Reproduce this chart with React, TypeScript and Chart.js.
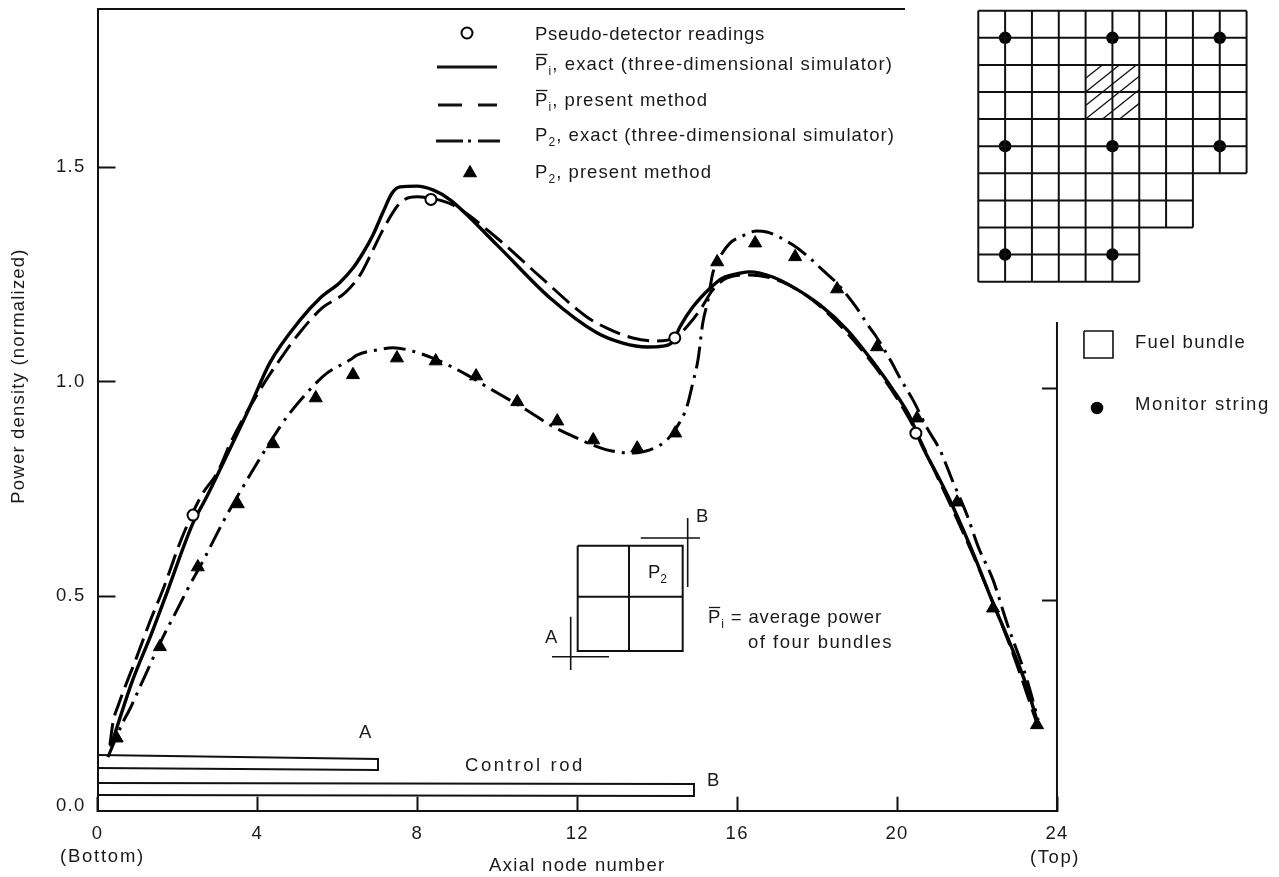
import React, { useEffect, useRef } from "react";
import { Chart, registerables } from "chart.js";

Chart.register(...registerables);

// ---- Curves, [axial node, power density] ----
const meanExact: number[][] = [
  [0.33,0.149],[0.855,0.298],[1.356,0.414],[1.688,0.496],[2.39,0.671],[2.69,0.724],[3.14,0.81],[3.81,0.941],[4.31,1.044],
  [5.07,1.144],[5.57,1.195],[6.07,1.232],[6.39,1.265],[6.64,1.3],[6.89,1.342],[7.14,1.395],[7.37,1.44],[7.57,1.454],
  [7.99,1.456],[8.39,1.447],[8.82,1.424],[9.99,1.319],[11.32,1.195],[12.49,1.114],
  [13.14,1.09],[13.74,1.081],[14.14,1.083],[14.39,1.093],[14.57,1.128],[14.89,1.174],[15.32,1.218],[15.64,1.242],[16.07,1.253],
  [16.32,1.256],[16.89,1.244],[17.39,1.221],[18.07,1.179],[18.75,1.121],[19.4,1.046],[19.9,0.981],[20.32,0.918],[20.62,0.852],
  [21.07,0.771],[21.4,0.708],[21.9,0.601],[22.4,0.484],[22.82,0.391],[23.25,0.288],[23.53,0.2],
];
const meanPresent: number[][] = [
  [0.31,0.153],[0.39,0.207],[0.52,0.246],[0.98,0.358],[1.3,0.438],[1.66,0.521],[2.06,0.624],[2.39,0.696],[2.64,0.741],[2.99,0.787],
  [3.36,0.864],[4.11,0.988],[4.61,1.058],[5.07,1.116],[5.62,1.172],[6.19,1.207],[6.57,1.249],[6.89,1.307],[7.14,1.354],[7.57,1.417],
  [7.99,1.431],[8.32,1.428],[8.89,1.412],[9.99,1.335],[11.07,1.245],[12.24,1.151],[12.74,1.125],
  [13.39,1.102],[13.99,1.095],[14.45,1.102],[14.74,1.128],[15.07,1.167],[15.39,1.214],[15.75,1.242],[16.32,1.249],[17.14,1.232],
  [18.07,1.176],[19.4,1.041],[20.32,0.911],[21.07,0.766],[21.9,0.596],[22.82,0.386],[23.53,0.195],
];
const p2Exact: number[][] = [
  [0.26,0.125],[0.64,0.207],[0.81,0.237],[1.06,0.288],[1.64,0.405],[1.99,0.468],[2.24,0.514],[2.69,0.591],[3.14,0.673],[3.49,0.731],
  [3.99,0.81],[4.56,0.894],[4.81,0.927],[5.49,0.999],[5.74,1.02],[6.32,1.051],[6.49,1.062],[6.99,1.074],[7.39,1.079],[7.77,1.074],
  [8.39,1.055],[9.24,1.016],[9.74,0.988],[10.39,0.953],[10.82,0.929],[11.32,0.899],[11.82,0.876],[12.32,0.855],[12.74,0.841],[13.39,0.834],
  [13.82,0.841],[14.24,0.864],[14.49,0.894],[14.74,0.941],[14.89,0.997],[15.02,1.051],[15.14,1.137],[15.27,1.19],[15.39,1.253],[15.57,1.291],
  [15.82,1.323],[16.07,1.337],[16.49,1.351],[16.74,1.349],[16.99,1.34],[17.39,1.319],[17.82,1.288],[18.14,1.26],[18.49,1.23],[18.99,1.172],
  [19.27,1.132],[19.5,1.102],[19.87,1.044],[20.07,1.009],[20.4,0.957],[20.75,0.892],[21.07,0.841],[21.4,0.766],[21.75,0.689],[22.03,0.615],
  [22.4,0.538],[22.75,0.437],[23.25,0.305],[23.53,0.211],
];
const p2Present: number[][] = [
  [0.48,0.169],[1.56,0.382],[2.51,0.568],[3.51,0.715],[4.39,0.855],[5.46,0.962],[6.39,1.016],[7.49,1.055],[8.46,1.048],[9.47,1.013],
  [10.5,0.953],[11.5,0.908],[12.4,0.864],[13.5,0.845],[14.45,0.88],[15.5,1.279],[16.45,1.323],[17.45,1.291],[18.5,1.216],[19.5,1.081],
  [20.5,0.915],[21.5,0.719],[22.4,0.472],[23.5,0.2],
];
const pseudoDetector: number[][] = [[2.39,0.689],[8.34,1.425],[14.44,1.102],[20.47,0.88]];

const xTicks = [0, 4, 8, 12, 16, 20, 24];
const yTicks = [0.012, 0.5, 1.0, 1.5];
const rightAxisTicks = [0.491, 0.985];

// Core map: rows of the inset, in number of bundles per row
const coreRowBundles = [10, 10, 10, 10, 10, 10, 8, 8, 6, 6];
const monitorStrings: number[][] = [[1,1],[5,1],[9,1],[1,5],[5,5],[9,5],[1,9],[5,9]];
const hatchOffsets = [-51, -34, -17, 0, 17, 34];

// ---- Figure geometry ----
const X0 = 97.5, XU = 39.98, Y0 = 810.7, YU = 429, TOP = 9;
const ax = (px: number) => (px - X0) / XU;
const ay = (py: number) => (Y0 - py) / YU;
const INK = "#111";
const TEXT = "#1a1a1a";
const FONT = '"Liberation Sans", Arial, sans-serif';
const SIZE = 18.5;

type Seg = { pts: number[][]; w: number; round?: boolean };
const decor: Seg[] = [];
const seg = (pts: number[][], w = 2, round = false) => decor.push({ pts, w, round });
const dot = (x: number, y: number) => seg([[x, y], [x + 0.05, y]], 12.5, true);

// core map
const CX = 978.3, CY = 10.7, CW = 26.83, CH = 27.1;
for (let j = 0; j <= coreRowBundles.length; j++) {
  const cols = Math.max(coreRowBundles[j - 1] ?? 0, coreRowBundles[j] ?? 0);
  seg([[CX, CY + j * CH], [CX + cols * CW, CY + j * CH]]);
}
for (let k = 0; k <= 10; k++) {
  const rows = coreRowBundles.filter((c) => c >= k).length;
  seg([[CX + k * CW, CY], [CX + k * CW, CY + rows * CH]]);
}
{
  const l = CX + 4 * CW, r = CX + 6 * CW, t = CY + 2 * CH, b = CY + 4 * CH, m = 0.8;
  hatchOffsets.forEach((o) => {
    const xb = l + o;
    const x1 = Math.max(l, xb), x2 = Math.min(r, xb + (b - t) / m);
    if (x2 > x1) seg([[x1, b - m * (x1 - xb)], [x2, b - m * (x2 - xb)]], 1.3);
  });
}
monitorStrings.forEach(([k, j]) => dot(CX + k * CW, CY + j * CH));
dot(1097, 408);
// control rods
seg([[97.5,755],[378,759],[378,770],[97.5,768]]);
seg([[97.5,783],[694,784],[694,796],[97.5,795]]);
// 2x2 bundle sketch
seg([[577.7,545.7],[682.7,545.7],[682.7,651],[577.7,651],[577.7,545.7]]);
seg([[629,545.7],[629,651]]);
seg([[577.7,596.7],[682.7,596.7]]);
seg([[687.7,518],[687.7,587]],1.6);
seg([[640.7,538],[700,538]],1.6);
seg([[570.7,616.7],[570.7,670]],1.6);
seg([[552,656.7],[609,656.7]],1.6);
// legend keys
seg([[437,67],[497,67]],3);
seg([[438,105],[462,105]],3);
seg([[478,105],[497,105]],3);
seg([[436,141],[463,141]],3);
seg([[468,141],[471,141]],3);
seg([[478,141],[500,141]],3);
// fuel bundle key
seg([[1084,331],[1113,331],[1113,358],[1084,358],[1084,331]],1.6);
// frame lines not belonging to a scale
seg([[97.5,TOP],[905,TOP]]);
seg([[1057,Y0],[1057,322]]);

type Run = { t: string; sub?: boolean; bar?: boolean };
const labels: { runs: Run[]; x: number; y: number; w?: number }[] = [
  { runs: [{ t: "Pseudo-detector readings" }], x: 535, y: 35, w: 230 },
  { runs: [{ t: "P", bar: true }, { t: "i", sub: true }, { t: ", exact (three-dimensional simulator)" }], x: 535, y: 65, w: 358 },
  { runs: [{ t: "P", bar: true }, { t: "i", sub: true }, { t: ", present method" }], x: 535, y: 101, w: 173 },
  { runs: [{ t: "P" }, { t: "2", sub: true }, { t: ", exact (three-dimensional simulator)" }], x: 535, y: 136, w: 360 },
  { runs: [{ t: "P" }, { t: "2", sub: true }, { t: ", present method" }], x: 535, y: 173, w: 177 },
  { runs: [{ t: "A" }], x: 359, y: 733 },
  { runs: [{ t: "Control rod" }], x: 465, y: 766, w: 120 },
  { runs: [{ t: "B" }], x: 707, y: 781 },
  { runs: [{ t: "B" }], x: 696, y: 517 },
  { runs: [{ t: "A" }], x: 545, y: 638 },
  { runs: [{ t: "P" }, { t: "2", sub: true }], x: 648, y: 573 },
  { runs: [{ t: "P", bar: true }, { t: "i", sub: true }, { t: " = average power" }], x: 708, y: 618, w: 174 },
  { runs: [{ t: "of four bundles" }], x: 748, y: 643, w: 145 },
  { runs: [{ t: "Fuel bundle" }], x: 1135, y: 343, w: 111 },
  { runs: [{ t: "Monitor string" }], x: 1135, y: 405, w: 135 },
  { runs: [{ t: "(Bottom)" }], x: 60, y: 857, w: 85 },
  { runs: [{ t: "(Top)" }], x: 1030, y: 858, w: 50 },
];

const toPts = (a: number[][]) => a.map(([x, y]) => ({ x, y }));

const textPlugin = {
  id: "figureText",
  beforeDraw(chart: any) {
    (chart.ctx as any).letterSpacing = "1.3px";
  },
  afterDatasetsDraw(chart: any) {
    const c = chart.ctx as CanvasRenderingContext2D;
    const sx = chart.scales.x, sy = chart.scales.y;
    c.save();
    c.fillStyle = TEXT;
    c.strokeStyle = TEXT;
    c.textBaseline = "middle";
    labels.forEach(({ runs, x, y, w }) => {
      (c as any).letterSpacing = "0px";
      let natural = 0, count = 0;
      runs.forEach((r) => {
        c.font = `${r.sub ? 12 : SIZE}px ${FONT}`;
        natural += c.measureText(r.t).width;
        count += r.t.length;
      });
      (c as any).letterSpacing = `${w ? Math.max(0, (w - natural) / count) : 0}px`;
      let px = sx.getPixelForValue(ax(x));
      const py = sy.getPixelForValue(ay(y));
      runs.forEach((r) => {
        c.font = `${r.sub ? 12 : SIZE}px ${FONT}`;
        c.fillText(r.t, px, r.sub ? py + 7 : py);
        const tw = c.measureText(r.t).width;
        if (r.bar) {
          c.lineWidth = 1.3;
          c.beginPath();
          c.moveTo(px + 1, py - 10.5);
          c.lineTo(px + tw - 1, py - 10.5);
          c.stroke();
        }
        px += tw;
      });
    });
    c.font = `${SIZE}px ${FONT}`;
    (c as any).letterSpacing = "1.2px";
    c.translate(19, 376);
    c.rotate(-Math.PI / 2);
    c.textAlign = "center";
    c.fillText("Power density (normalized)", 0, 0);
    c.restore();
  },
};

export default function App() {
  const ref = useRef<HTMLCanvasElement>(null);
  useEffect(() => {
    const base = { showLine: true, pointRadius: 0, borderColor: "#000", clip: false as const, fill: false };
    const hollow = {
      pointStyle: "circle",
      pointRadius: 5.5,
      pointBackgroundColor: "#fff",
      pointBorderColor: "#000",
      pointBorderWidth: 2,
      showLine: false,
      clip: false,
    };
    const solid = {
      pointStyle: "triangle",
      pointRadius: 7.5,
      pointBackgroundColor: "#000",
      pointBorderColor: "#000",
      pointBorderWidth: 1,
      showLine: false,
      clip: false,
    };
    const smooth = { cubicInterpolationMode: "monotone" };
    const chart = new Chart(ref.current!, {
      type: "scatter",
      data: {
        datasets: [
          { ...hollow, label: "Pseudo-detector readings", data: toPts(pseudoDetector) },
          { ...hollow, label: "key: circle", data: [{ x: ax(467), y: ay(33) }] },
          { ...solid, label: "P2, present method", data: toPts(p2Present) },
          { ...solid, label: "key: triangle", data: [{ x: ax(470), y: ay(173) }] },
          { ...base, ...smooth, label: "Pi, exact (three-dimensional simulator)", data: toPts(meanExact), borderWidth: 3.4 },
          { ...base, ...smooth, label: "Pi, present method", data: toPts(meanPresent), borderWidth: 3, borderDash: [22, 8] },
          { ...base, ...smooth, label: "P2, exact (three-dimensional simulator)", data: toPts(p2Exact), borderWidth: 3, borderDash: [22, 7, 3, 7] },
          ...decor.map((d, i) => ({
            ...base,
            label: `figure ${i}`,
            data: d.pts.map(([x, y]) => ({ x: ax(x), y: ay(y) })),
            borderWidth: d.w,
            borderColor: d.round ? "#000" : INK,
            borderCapStyle: d.round ? "round" : "butt",
          })),
        ],
      },
      options: {
        responsive: false,
        animation: false,
        layout: { padding: { left: 0, right: 1279 - 1057, top: TOP, bottom: 0 } },
        plugins: { legend: { display: false }, tooltip: { enabled: false } },
        scales: {
          x: {
            type: "linear",
            min: 0,
            max: 24,
            position: "bottom",
            afterFit: (s: any) => { s.height = 877 - Y0; s.paddingLeft = 0; s.paddingRight = 0; },
            afterBuildTicks: (s: any) => { s.ticks = xTicks.map((value) => ({ value })); },
            border: { color: INK, width: 2 },
            grid: { drawOnChartArea: false, tickLength: -14, tickColor: INK, tickWidth: 2 },
            ticks: { padding: 26, color: TEXT, font: { family: FONT, size: SIZE }, maxRotation: 0, autoSkip: false },
            title: { display: true, text: "Axial node number", color: TEXT, font: { family: FONT, size: SIZE }, padding: { top: 0, bottom: 0 } },
          },
          y: {
            type: "linear",
            min: 0,
            max: (Y0 - TOP) / YU,
            position: "left",
            afterFit: (s: any) => { s.width = X0; s.paddingTop = 0; s.paddingBottom = 0; },
            afterBuildTicks: (s: any) => { s.ticks = yTicks.map((value) => ({ value })); },
            border: { color: INK, width: 2 },
            grid: {
              drawOnChartArea: false,
              tickLength: -18,
              tickColor: (ctx: any) => (ctx.tick && ctx.tick.value < 0.1 ? "transparent" : INK),
              tickWidth: 2,
            },
            ticks: {
              padding: 30,
              color: TEXT,
              font: { family: FONT, size: SIZE },
              callback: (v: any) => Number(v).toFixed(1),
              autoSkip: false,
            },
          },
          yRight: {
            type: "linear",
            min: 0,
            max: (Y0 - TOP) / YU,
            position: "right",
            afterFit: (s: any) => { s.width = 0; s.paddingTop = 0; s.paddingBottom = 0; },
            afterBuildTicks: (s: any) => { s.ticks = rightAxisTicks.map((value) => ({ value })); },
            border: { display: false },
            grid: { drawOnChartArea: false, tickLength: -15, tickColor: INK, tickWidth: 2 },
            ticks: { display: false },
          },
        },
      } as any,
      plugins: [textPlugin],
    } as any);
    return () => chart.destroy();
  }, []);
  return (
    <canvas
      ref={ref}
      width={1279}
      height={877}
      style={{ position: "absolute", left: 0, top: 0, width: 1279, height: 877, display: "block" }}
    />
  );
}
